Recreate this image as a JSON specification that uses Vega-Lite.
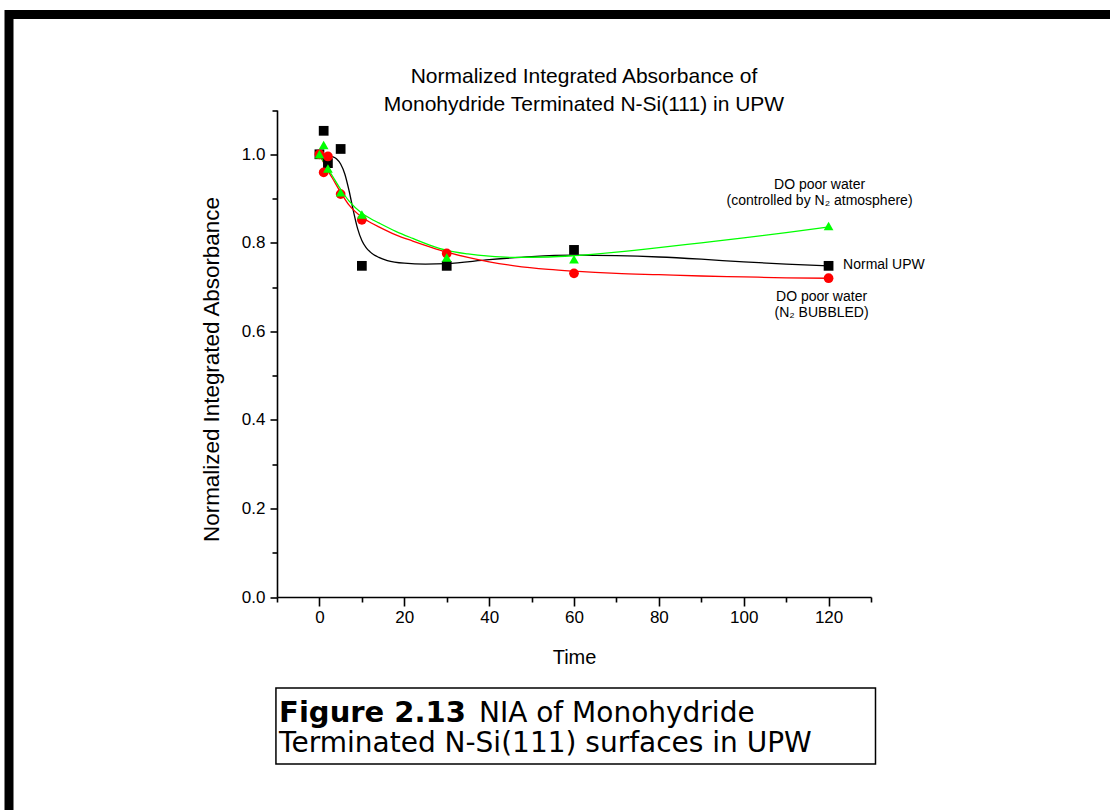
{
  "$schema": "https://vega.github.io/schema/vega-lite/v6.json",
  "autosize": {"type": "none"},
  "width": 1141,
  "height": 835.5,
  "padding": {"left": 9, "top": 14.5, "right": -20, "bottom": -20},
  "background": "white",
  "config": {
    "view": {"stroke": "black", "strokeWidth": 9},
    "font": "Liberation Sans",
    "text": {"font": "Liberation Sans", "color": "black"}
  },
  "title": {
    "text": ["Normalized Integrated Absorbance of", "Monohydride Terminated N-Si(111) in UPW"],
    "font": "Liberation Sans",
    "fontSize": 21,
    "fontWeight": "normal",
    "color": "black",
    "lineHeight": 28,
    "anchor": "start",
    "align": "center",
    "frame": "group",
    "offset": -100,
    "dx": 575
  },
  "datasets": {
    "points": [
      {"series": "Normal UPW", "t": 0, "value": 1.0},
      {"series": "Normal UPW", "t": 1, "value": 1.053},
      {"series": "Normal UPW", "t": 2, "value": 0.98},
      {"series": "Normal UPW", "t": 5, "value": 1.012},
      {"series": "Normal UPW", "t": 10, "value": 0.748},
      {"series": "Normal UPW", "t": 30, "value": 0.748},
      {"series": "Normal UPW", "t": 60, "value": 0.784},
      {"series": "Normal UPW", "t": 120, "value": 0.748},
      {"series": "N2 bubbled", "t": 0, "value": 1.0},
      {"series": "N2 bubbled", "t": 1, "value": 0.959},
      {"series": "N2 bubbled", "t": 2, "value": 0.995},
      {"series": "N2 bubbled", "t": 5, "value": 0.91},
      {"series": "N2 bubbled", "t": 10, "value": 0.852},
      {"series": "N2 bubbled", "t": 30, "value": 0.776},
      {"series": "N2 bubbled", "t": 60, "value": 0.731},
      {"series": "N2 bubbled", "t": 120, "value": 0.72},
      {"series": "N2 atmosphere", "t": 0, "value": 1.0},
      {"series": "N2 atmosphere", "t": 1, "value": 1.021},
      {"series": "N2 atmosphere", "t": 2, "value": 0.968},
      {"series": "N2 atmosphere", "t": 5, "value": 0.914},
      {"series": "N2 atmosphere", "t": 10, "value": 0.864},
      {"series": "N2 atmosphere", "t": 30, "value": 0.767},
      {"series": "N2 atmosphere", "t": 60, "value": 0.763},
      {"series": "N2 atmosphere", "t": 120, "value": 0.838}
    ],
    "fits": [
      {"series": "Normal UPW", "t": 0, "value": 0.995},
      {"series": "Normal UPW", "t": 1, "value": 0.997},
      {"series": "Normal UPW", "t": 2, "value": 0.998},
      {"series": "Normal UPW", "t": 3, "value": 0.995},
      {"series": "Normal UPW", "t": 4, "value": 0.99},
      {"series": "Normal UPW", "t": 5, "value": 0.978},
      {"series": "Normal UPW", "t": 6, "value": 0.955},
      {"series": "Normal UPW", "t": 7, "value": 0.917},
      {"series": "Normal UPW", "t": 8, "value": 0.872},
      {"series": "Normal UPW", "t": 9, "value": 0.832},
      {"series": "Normal UPW", "t": 10, "value": 0.805},
      {"series": "Normal UPW", "t": 11, "value": 0.789},
      {"series": "Normal UPW", "t": 12, "value": 0.779},
      {"series": "Normal UPW", "t": 14, "value": 0.767},
      {"series": "Normal UPW", "t": 16, "value": 0.760},
      {"series": "Normal UPW", "t": 20, "value": 0.754},
      {"series": "Normal UPW", "t": 25, "value": 0.752},
      {"series": "Normal UPW", "t": 30, "value": 0.753},
      {"series": "Normal UPW", "t": 40, "value": 0.762},
      {"series": "Normal UPW", "t": 50, "value": 0.769},
      {"series": "Normal UPW", "t": 60, "value": 0.772},
      {"series": "Normal UPW", "t": 70, "value": 0.771},
      {"series": "Normal UPW", "t": 80, "value": 0.768},
      {"series": "Normal UPW", "t": 90, "value": 0.763},
      {"series": "Normal UPW", "t": 100, "value": 0.757},
      {"series": "Normal UPW", "t": 110, "value": 0.752},
      {"series": "Normal UPW", "t": 120, "value": 0.748},
      {"series": "N2 bubbled", "t": 0, "value": 1.0},
      {"series": "N2 bubbled", "t": 1, "value": 0.981},
      {"series": "N2 bubbled", "t": 2, "value": 0.963},
      {"series": "N2 bubbled", "t": 3, "value": 0.947},
      {"series": "N2 bubbled", "t": 5, "value": 0.914},
      {"series": "N2 bubbled", "t": 7, "value": 0.885},
      {"series": "N2 bubbled", "t": 10, "value": 0.858},
      {"series": "N2 bubbled", "t": 12, "value": 0.846},
      {"series": "N2 bubbled", "t": 14, "value": 0.836},
      {"series": "N2 bubbled", "t": 18, "value": 0.818},
      {"series": "N2 bubbled", "t": 22, "value": 0.804},
      {"series": "N2 bubbled", "t": 26, "value": 0.791},
      {"series": "N2 bubbled", "t": 30, "value": 0.779},
      {"series": "N2 bubbled", "t": 35, "value": 0.767},
      {"series": "N2 bubbled", "t": 40, "value": 0.757},
      {"series": "N2 bubbled", "t": 46, "value": 0.748},
      {"series": "N2 bubbled", "t": 54, "value": 0.740},
      {"series": "N2 bubbled", "t": 60, "value": 0.736},
      {"series": "N2 bubbled", "t": 70, "value": 0.731},
      {"series": "N2 bubbled", "t": 80, "value": 0.728},
      {"series": "N2 bubbled", "t": 90, "value": 0.725},
      {"series": "N2 bubbled", "t": 100, "value": 0.723},
      {"series": "N2 bubbled", "t": 110, "value": 0.721},
      {"series": "N2 bubbled", "t": 120, "value": 0.72},
      {"series": "N2 atmosphere", "t": 0, "value": 1.0},
      {"series": "N2 atmosphere", "t": 1, "value": 0.983},
      {"series": "N2 atmosphere", "t": 2, "value": 0.967},
      {"series": "N2 atmosphere", "t": 3, "value": 0.952},
      {"series": "N2 atmosphere", "t": 5, "value": 0.921},
      {"series": "N2 atmosphere", "t": 7, "value": 0.894},
      {"series": "N2 atmosphere", "t": 10, "value": 0.867},
      {"series": "N2 atmosphere", "t": 12, "value": 0.855},
      {"series": "N2 atmosphere", "t": 14, "value": 0.845},
      {"series": "N2 atmosphere", "t": 18, "value": 0.826},
      {"series": "N2 atmosphere", "t": 22, "value": 0.810},
      {"series": "N2 atmosphere", "t": 26, "value": 0.795},
      {"series": "N2 atmosphere", "t": 30, "value": 0.783},
      {"series": "N2 atmosphere", "t": 35, "value": 0.775},
      {"series": "N2 atmosphere", "t": 40, "value": 0.770},
      {"series": "N2 atmosphere", "t": 46, "value": 0.767},
      {"series": "N2 atmosphere", "t": 54, "value": 0.768},
      {"series": "N2 atmosphere", "t": 60, "value": 0.771},
      {"series": "N2 atmosphere", "t": 70, "value": 0.779},
      {"series": "N2 atmosphere", "t": 80, "value": 0.789},
      {"series": "N2 atmosphere", "t": 90, "value": 0.8},
      {"series": "N2 atmosphere", "t": 100, "value": 0.811},
      {"series": "N2 atmosphere", "t": 110, "value": 0.823},
      {"series": "N2 atmosphere", "t": 120, "value": 0.836}
    ],
    "caption": [
      {"part": "head", "text": "Figure 2.13"},
      {"part": "line1", "text": "NIA of Monohydride"},
      {"part": "line2", "text": "Terminated N-Si(111) surfaces in UPW"}
    ]
  },
  "layer": [
    {
      "data": {"name": "fits"},
      "mark": {"type": "line", "interpolate": "monotone", "strokeWidth": 1.3},
      "encoding": {
        "x": {
          "field": "t",
          "type": "quantitative",
          "title": "Time",
          "scale": {"domain": [-10, 130], "range": [268, 862], "nice": false, "zero": false},
          "axis": {
            "orient": "bottom",
            "offset": -253,
            "values": [-10, 0, 10, 20, 30, 40, 50, 60, 70, 80, 90, 100, 110, 120, 130],
            "labelExpr": "datum.value % 20 === 0 ? datum.label : ''",
            "format": "d",
            "grid": false,
            "domainColor": "black",
            "domainWidth": 1.6,
            "tickColor": "black",
            "tickWidth": 1.6,
            "tickSize": {"condition": {"test": "datum.value % 20 === 0", "value": 9}, "value": 5},
            "labelFont": "Liberation Sans",
            "labelFontSize": 17,
            "labelColor": "black",
            "labelPadding": 3,
            "labelOverlap": false,
            "titleFont": "Liberation Sans",
            "titleFontSize": 20,
            "titleFontWeight": "normal",
            "titleColor": "black",
            "titlePadding": 22
          }
        },
        "y": {
          "field": "value",
          "type": "quantitative",
          "title": "Normalized Integrated Absorbance",
          "scale": {"domain": [0, 1.1], "range": [582.5, 95.5], "nice": false, "zero": false},
          "axis": {
            "orient": "left",
            "offset": -268,
            "values": [0, 0.1, 0.2, 0.3, 0.4, 0.5, 0.6, 0.7, 0.8, 0.9, 1.0, 1.1],
            "labelExpr": "(round(datum.value * 10) % 2 === 0 && datum.value < 1.05) ? datum.label : ''",
            "format": ".1f",
            "grid": false,
            "domainColor": "black",
            "domainWidth": 1.6,
            "tickColor": "black",
            "tickWidth": 1.6,
            "tickSize": {"condition": {"test": "round(datum.value * 10) % 2 === 0", "value": 7}, "value": 5},
            "labelFont": "Liberation Sans",
            "labelFontSize": 17,
            "labelColor": "black",
            "labelPadding": 5,
            "labelOverlap": false,
            "titleFont": "Liberation Sans",
            "titleFontSize": 22.4,
            "titleFontWeight": "normal",
            "titleColor": "black",
            "titlePadding": 18,
            "titleY": 354.5
          }
        },
        "color": {
          "field": "series",
          "type": "nominal",
          "scale": {"domain": ["Normal UPW", "N2 bubbled", "N2 atmosphere"], "range": ["#000000", "#ff0000", "#00ff00"]},
          "legend": null
        },
        "detail": {"field": "series"}
      }
    },
    {
      "data": {"name": "points"},
      "mark": {"type": "point", "filled": true, "opacity": 1, "size": 95},
      "encoding": {
        "x": {"field": "t", "type": "quantitative"},
        "y": {"field": "value", "type": "quantitative"},
        "color": {"field": "series", "type": "nominal", "legend": null},
        "shape": {
          "field": "series",
          "type": "nominal",
          "scale": {"domain": ["Normal UPW", "N2 bubbled", "N2 atmosphere"], "range": ["square", "circle", "triangle-up"]},
          "legend": null
        },
        "order": {"field": "series", "sort": "descending"}
      }
    },
    {
      "data": {"name": "points"},
      "transform": [{"filter": "datum.series === 'Normal UPW' && datum.t === 120"}],
      "mark": {"type": "text", "text": "Normal UPW", "align": "left", "baseline": "middle", "dx": 14.5, "dy": -1, "fontSize": 14, "color": "black"},
      "encoding": {
        "x": {"field": "t", "type": "quantitative"},
        "y": {"field": "value", "type": "quantitative"}
      }
    },
    {
      "data": {"name": "points"},
      "transform": [{"filter": "datum.series === 'N2 atmosphere' && datum.t === 120"}],
      "mark": {"type": "text", "text": ["DO poor water", "(controlled by N₂ atmosphere)"], "align": "center", "baseline": "alphabetic", "dx": -9, "dy": -37, "lineHeight": 16, "fontSize": 14, "color": "black"},
      "encoding": {
        "x": {"field": "t", "type": "quantitative"},
        "y": {"field": "value", "type": "quantitative"}
      }
    },
    {
      "data": {"name": "points"},
      "transform": [{"filter": "datum.series === 'N2 bubbled' && datum.t === 120"}],
      "mark": {"type": "text", "text": ["DO poor water", "(N₂ BUBBLED)"], "align": "center", "baseline": "alphabetic", "dx": -7, "dy": 23, "lineHeight": 16, "fontSize": 14, "color": "black"},
      "encoding": {
        "x": {"field": "t", "type": "quantitative"},
        "y": {"field": "value", "type": "quantitative"}
      }
    },
    {
      "data": {"name": "caption"},
      "transform": [{"filter": "datum.part === 'head'"}],
      "mark": {"type": "rect", "fill": "white", "stroke": "black", "strokeWidth": 1.5},
      "encoding": {
        "x": {"datum": -10.25, "type": "quantitative"},
        "x2": {"datum": 131.06},
        "y": {"datum": -0.2056, "type": "quantitative"},
        "y2": {"datum": -0.3772}
      }
    },
    {
      "data": {"name": "caption"},
      "transform": [{"filter": "datum.part === 'head'"}],
      "mark": {"type": "text", "align": "left", "baseline": "alphabetic", "font": "DejaVu Sans", "fontWeight": "bold", "fontSize": 29, "color": "black"},
      "encoding": {
        "x": {"datum": -9.5, "type": "quantitative"},
        "y": {"datum": -0.282, "type": "quantitative"},
        "text": {"field": "text"}
      }
    },
    {
      "data": {"name": "caption"},
      "transform": [{"filter": "datum.part === 'line1'"}],
      "mark": {"type": "text", "align": "left", "baseline": "alphabetic", "font": "DejaVu Sans", "fontSize": 28, "color": "black"},
      "encoding": {
        "x": {"datum": 37.6, "type": "quantitative"},
        "y": {"datum": -0.282, "type": "quantitative"},
        "text": {"field": "text"}
      }
    },
    {
      "data": {"name": "caption"},
      "transform": [{"filter": "datum.part === 'line2'"}],
      "mark": {"type": "text", "align": "left", "baseline": "alphabetic", "font": "DejaVu Sans", "fontSize": 28, "color": "black"},
      "encoding": {
        "x": {"datum": -9.5, "type": "quantitative"},
        "y": {"datum": -0.35, "type": "quantitative"},
        "text": {"field": "text"}
      }
    }
  ]
}
